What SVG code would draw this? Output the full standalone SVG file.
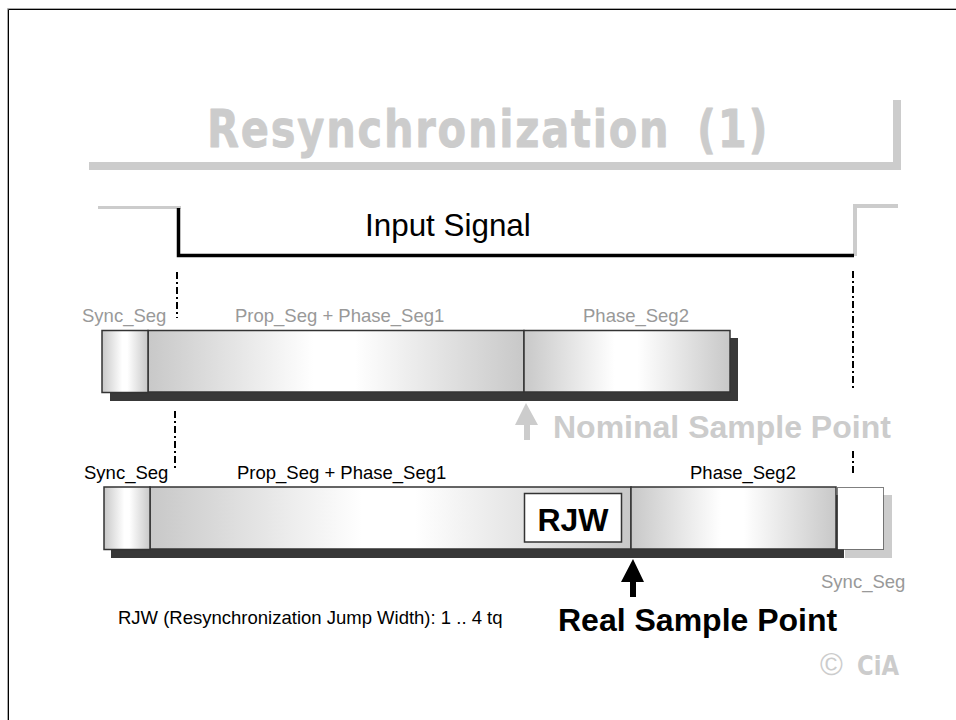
<svg xmlns="http://www.w3.org/2000/svg" width="956" height="720" viewBox="0 0 956 720">
<style>
text{font-family:"Liberation Sans",Arial,sans-serif}
.lbl{font-size:18.5px;fill:#000}
.dim{font-size:18.5px;fill:#999}
.edge{stroke:#333;stroke-width:1.5}
.shadow{fill:#383838}
.dash{fill:none;stroke:#000;stroke-width:2;stroke-dasharray:7 3 2 3}
.grey{fill:#ccc}
</style>
<defs>
<linearGradient id="g"><stop offset="0" stop-color="#c8c8c8"/><stop offset=".44" stop-color="#fff"/><stop offset=".55" stop-color="#fff"/><stop offset="1" stop-color="#c8c8c8"/></linearGradient>
</defs>
<rect width="956" height="720" fill="#fff"/>
<path d="M7.500 720V8.500H956" fill="none" stroke="#aaa"/>
<path d="M8.500 720V9.500H956" fill="none" stroke="#000"/>
<g id="title">
<text transform="translate(207 147) scale(.8 1)" font-size="52" font-weight="700" letter-spacing="2.200" word-spacing="13" style="font-family:'DejaVu Sans',sans-serif" fill="#ccc" stroke="#ccc" stroke-width=".8" stroke-linejoin="round">Resynchronization (1)</text>
<path class="grey" d="M89 162H893V100H901V170H89Z"/>
</g>
<g id="signal">
<path class="grey" d="M98 206H181V209H98ZM853 256V204H898V208H857V256Z"/>
<path d="M178.500 208V255.500H854" fill="none" stroke="#000" stroke-width="3.500"/>
<text x="365" y="236" font-size="31.400" fill="#000">Input Signal</text>
</g>
<g id="connectors">
<path class="dash" d="M177 272V318M175 411V470M853 271V390M853 451V476"/>
</g>
<g id="bar-nominal">
<rect class="shadow" x="110" y="338" width="628" height="63"/>
<rect x="148" y="330.500" width="376" height="61.500" fill="url(#g)" class="edge"/>
<rect x="524" y="330.500" width="206" height="61.500" fill="url(#g)" class="edge"/>
<rect x="102" y="330.500" width="46" height="62" fill="url(#g)" class="edge"/>
<text class="dim" x="82" y="321.500">Sync_Seg</text>
<text class="dim" x="235" y="321.500">Prop_Seg + Phase_Seg1</text>
<text class="dim" x="583" y="321.500">Phase_Seg2</text>
</g>
<g id="nominal-sample-point">
<path class="grey" d="M526 403L538 425H530V440H524V425H515Z"/>
<text x="553" y="438" font-size="32" font-weight="700" fill="#ccc">Nominal Sample Point</text>
</g>
<g id="bar-real">
<rect class="grey" x="845" y="495" width="47" height="63"/>
<rect class="shadow" x="111" y="495" width="733" height="63"/>
<rect x="150" y="487" width="481" height="62" fill="url(#g)" class="edge"/>
<rect x="631" y="487" width="205" height="62" fill="url(#g)" class="edge"/>
<rect x="104" y="487" width="46" height="62.500" fill="url(#g)" class="edge"/>
<rect x="837.500" y="487.500" width="46" height="62" fill="#fff" stroke="#000" stroke-dasharray="1 1"/>
<text class="lbl" x="84" y="479">Sync_Seg</text>
<text class="lbl" x="237" y="479">Prop_Seg + Phase_Seg1</text>
<text class="lbl" x="690" y="479">Phase_Seg2</text>
<text class="dim" x="821" y="588">Sync_Seg</text>
</g>
<g id="rjw">
<rect x="524.500" y="493.500" width="97" height="48.500" fill="#fff" stroke="#333" stroke-width="1.500"/>
<text x="573" y="531" font-size="32" font-weight="700" text-anchor="middle" fill="#000">RJW</text>
</g>
<g id="real-sample-point">
<path fill="#000" d="M633 559L644 582H636V597H630V582H621Z"/>
<text x="558" y="631" font-size="32" font-weight="700" fill="#000">Real Sample Point</text>
</g>
<text id="rjw-note" x="118" y="624" font-size="18.500" fill="#000">RJW (Resynchronization Jump Width): 1 .. 4 tq</text>
<g id="copyright">
<text x="820" y="675" font-size="31" fill="#ccc">©</text>
<text x="857" y="675" font-size="27" font-weight="700" fill="#ccc" style="font-family:'DejaVu Sans',sans-serif" textLength="42" lengthAdjust="spacingAndGlyphs">CiA</text>
</g>
</svg>
